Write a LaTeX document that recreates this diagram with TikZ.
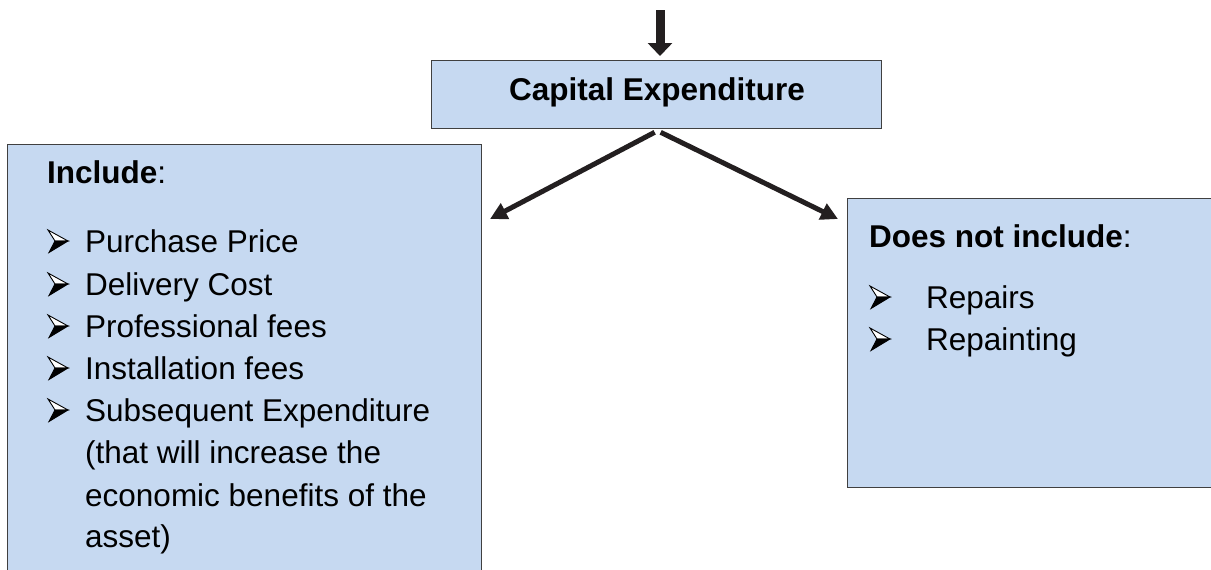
\documentclass[tikz,border=0pt]{standalone}
\usepackage{fontspec}
\setmainfont{Liberation Sans}
\usetikzlibrary{arrows.meta}
\definecolor{boxfill}{HTML}{C6D9F1}
\definecolor{boxline}{HTML}{404040}
\definecolor{arrowcol}{HTML}{231F20}
\begin{document}
\begin{tikzpicture}[x=1pt,y=-1pt,
  box/.style={draw=boxline, fill=boxfill, line width=1.3pt, inner sep=0, anchor=north west},
  txt/.style={anchor=base west, inner sep=0, font=\fontsize{31.5}{38}\selectfont},
  conn/.style={line width=5pt, draw=arrowcol, -{Triangle[width=17pt,length=17pt]}},
  pics/abul/.style={code={
    \filldraw[fill=white, draw=black, line width=0.9pt, line join=miter] (0,-22) -- (20,-11) -- (7,-11) -- cycle;
    \filldraw[fill=black, draw=black, line width=0.9pt, line join=miter] (7,-11) -- (20,-11) -- (1,0.5) -- cycle;
  }}]
\useasboundingbox (0,0) rectangle (1211,570);
\clip (0,0) rectangle (1211,570);
% boxes
\node[box, minimum width=450pt, minimum height=68pt] (cap) at (431,60) {};
\node[box, minimum width=474pt, minimum height=440pt] (inc) at (7,144) {};
\node[box, minimum width=380pt, minimum height=289pt] (exc) at (847,198) {};
% title
\node[anchor=base, inner sep=0, font=\fontsize{31.5}{38}\selectfont\bfseries] (captxt) at (657,100) {Capital Expenditure};
% top arrow
\coordinate (src) at (660,10);
\draw[line width=9pt, draw=arrowcol, -{Triangle[width=24pt,length=13pt]}, shorten >=4pt] (src) -- (src |- cap.north);
% diagonal arrows
\coordinate (lt) at (490,219);
\coordinate (rt) at (838,219);
\draw[conn] ([xshift=-2pt,yshift=-3pt]cap.south) -- (lt);
\draw[conn] ([xshift=4pt,yshift=-3pt]cap.south) -- (rt);
% left list
\node[txt] (inchead) at (47,183) {\textbf{Include}:};
\coordinate (b1) at (48,252); \pic at (b1) {abul};
\node[txt] (i1) at (85,252) {Purchase Price};
\coordinate (b2) at (48,295); \pic at (b2) {abul};
\node[txt] (i2) at (85,295) {Delivery Cost};
\coordinate (b3) at (48,337); \pic at (b3) {abul};
\node[txt] (i3) at (85,337) {Professional fees};
\coordinate (b4) at (48,379); \pic at (b4) {abul};
\node[txt] (i4) at (85,379) {Installation fees};
\coordinate (b5) at (48,421); \pic at (b5) {abul};
\node[txt] (i5) at (85,421) {Subsequent Expenditure};
\node[txt] (i5b) at (85,463) {(that will increase the};
\node[txt] (i5c) at (85,506) {economic benefits of the};
\node[txt] (i5d) at (85,547) {asset)};
% right list
\node[txt] (exchead) at (869,247) {\textbf{Does not include}:};
\coordinate (r1) at (870,308); \pic at (r1) {abul};
\node[txt] (e1) at (926,308) {Repairs};
\coordinate (r2) at (870,350); \pic at (r2) {abul};
\node[txt] (e2) at (926,350) {Repainting};
\end{tikzpicture}
\end{document}
